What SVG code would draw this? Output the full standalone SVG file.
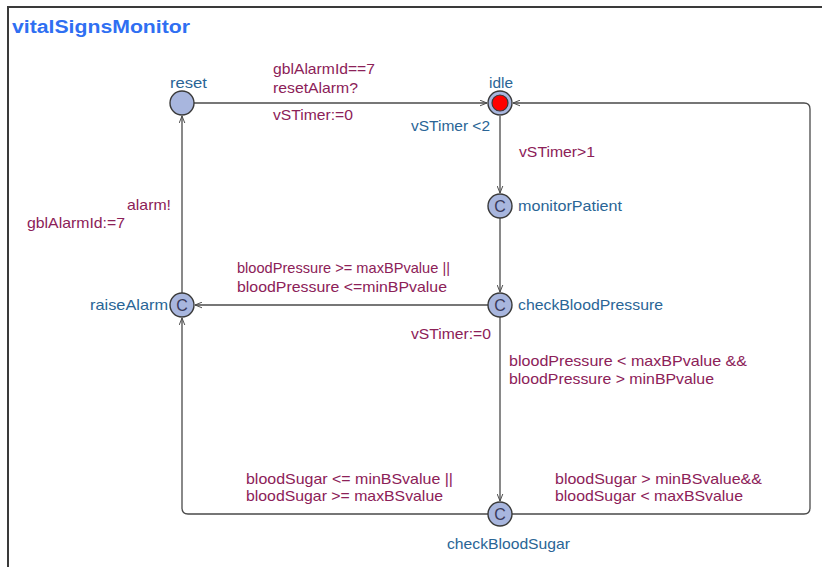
<svg xmlns="http://www.w3.org/2000/svg" width="822" height="567" viewBox="0 0 822 567">
  <defs>
    <style>
      .frame { fill: none; stroke: #3a3a3a; stroke-width: 2; }
      .edge { fill: none; stroke: #4a4a4a; stroke-width: 1.3; }
      .loc { fill: #a8b6de; stroke: #3a3a3a; stroke-width: 1.4; }
      .init { fill: #ff0000; stroke: #3a3a3a; stroke-width: 1.2; }
      .cmark { font-family: "Liberation Sans", Arial, sans-serif; font-size: 16px; fill: #3a3a5a; text-anchor: middle; }
      .name { font-family: "Liberation Sans", Arial, sans-serif; font-size: 14.5px; fill: #2a6596; }
      .lbl { font-family: "Liberation Sans", Arial, sans-serif; font-size: 14.5px; fill: #8c2158; }
      .title { font-family: "Liberation Sans", Arial, sans-serif; font-size: 18px; font-weight: bold; fill: #2f6ff2; }
    </style>
    <marker id="arrow" viewBox="0 0 10 10" refX="10" refY="5" markerWidth="7" markerHeight="7" markerUnits="userSpaceOnUse" orient="auto">
      <path d="M0,1 L10,5 L0,9" fill="none" stroke="#4a4a4a" stroke-width="1.4"/>
    </marker>
  </defs>

  <rect width="822" height="567" fill="#ffffff"/>

  <!-- template frame -->
  <path class="frame" d="M8,567 L8,7 L822,7"/>
  <text class="title" x="12" y="33" textLength="178" lengthAdjust="spacingAndGlyphs">vitalSignsMonitor</text>

  <!-- transitions -->
  <g id="edges">
    <line class="edge" x1="194" y1="103" x2="487" y2="103" marker-end="url(#arrow)"/>
    <line class="edge" x1="500" y1="116" x2="500" y2="193" marker-end="url(#arrow)"/>
    <line class="edge" x1="500" y1="218" x2="500" y2="292" marker-end="url(#arrow)"/>
    <line class="edge" x1="488" y1="305" x2="195" y2="305" marker-end="url(#arrow)"/>
    <line class="edge" x1="182" y1="293" x2="182" y2="116" marker-end="url(#arrow)"/>
    <line class="edge" x1="500" y1="317" x2="500" y2="501" marker-end="url(#arrow)"/>
    <path class="edge" d="M488,514 L188,514 Q182,514 182,508 L182,318" marker-end="url(#arrow)"/>
    <path class="edge" d="M512,514 L804,514 Q810,514 810,508 L810,109 Q810,103 804,103 L513,103" marker-end="url(#arrow)"/>
  </g>

  <!-- transition labels -->
  <g id="edge-labels">
    <text class="lbl" x="273" y="74" textLength="102" lengthAdjust="spacingAndGlyphs">gblAlarmId==7</text>
    <text class="lbl" x="273" y="93" textLength="85" lengthAdjust="spacingAndGlyphs">resetAlarm?</text>
    <text class="lbl" x="273" y="120" textLength="80" lengthAdjust="spacingAndGlyphs">vSTimer:=0</text>
    <text class="lbl" x="519" y="157" textLength="76" lengthAdjust="spacingAndGlyphs">vSTimer&gt;1</text>
    <text class="lbl" x="237" y="273" textLength="213" lengthAdjust="spacingAndGlyphs">bloodPressure &gt;= maxBPvalue ||</text>
    <text class="lbl" x="237" y="292" textLength="210" lengthAdjust="spacingAndGlyphs">bloodPressure &lt;=minBPvalue</text>
    <text class="lbl" x="411" y="339" textLength="80" lengthAdjust="spacingAndGlyphs">vSTimer:=0</text>
    <text class="lbl" x="509" y="366" textLength="238" lengthAdjust="spacingAndGlyphs">bloodPressure &lt; maxBPvalue &amp;&amp;</text>
    <text class="lbl" x="509" y="384" textLength="205" lengthAdjust="spacingAndGlyphs">bloodPressure &gt; minBPvalue</text>
    <text class="lbl" x="127" y="210" textLength="44" lengthAdjust="spacingAndGlyphs">alarm!</text>
    <text class="lbl" x="27" y="228" textLength="98" lengthAdjust="spacingAndGlyphs">gblAlarmId:=7</text>
    <text class="lbl" x="246" y="484" textLength="207" lengthAdjust="spacingAndGlyphs">bloodSugar &lt;= minBSvalue  ||</text>
    <text class="lbl" x="246" y="501" textLength="197" lengthAdjust="spacingAndGlyphs">bloodSugar &gt;= maxBSvalue</text>
    <text class="lbl" x="555" y="484" textLength="207" lengthAdjust="spacingAndGlyphs">bloodSugar &gt; minBSvalue&amp;&amp;</text>
    <text class="lbl" x="555" y="501" textLength="188" lengthAdjust="spacingAndGlyphs">bloodSugar &lt; maxBSvalue</text>
  </g>

  <!-- locations -->
  <g id="reset">
    <circle class="loc" cx="182" cy="103" r="12"/>
    <text class="name" x="170" y="88" textLength="37" lengthAdjust="spacingAndGlyphs">reset</text>
  </g>
  <g id="idle">
    <circle class="loc" cx="500" cy="103" r="12"/>
    <circle class="init" cx="500" cy="103" r="8"/>
    <text class="name" x="489" y="88" textLength="24" lengthAdjust="spacingAndGlyphs">idle</text>
    <text class="name" x="411" y="131" textLength="79" lengthAdjust="spacingAndGlyphs">vSTimer &lt;2</text>
  </g>
  <g id="monitorPatient">
    <circle class="loc" cx="500" cy="206" r="12"/>
    <text class="cmark" x="500" y="212">C</text>
    <text class="name" x="518" y="211" textLength="104" lengthAdjust="spacingAndGlyphs">monitorPatient</text>
  </g>
  <g id="checkBloodPressure">
    <circle class="loc" cx="500" cy="305" r="12"/>
    <text class="cmark" x="500" y="311">C</text>
    <text class="name" x="518" y="310" textLength="145" lengthAdjust="spacingAndGlyphs">checkBloodPressure</text>
  </g>
  <g id="raiseAlarm">
    <circle class="loc" cx="182" cy="305" r="12"/>
    <text class="cmark" x="182" y="311">C</text>
    <text class="name" x="90" y="310" textLength="78" lengthAdjust="spacingAndGlyphs">raiseAlarm</text>
  </g>
  <g id="checkBloodSugar">
    <circle class="loc" cx="500" cy="514" r="12"/>
    <text class="cmark" x="500" y="520">C</text>
    <text class="name" x="447" y="549" textLength="123" lengthAdjust="spacingAndGlyphs">checkBloodSugar</text>
  </g>
</svg>
